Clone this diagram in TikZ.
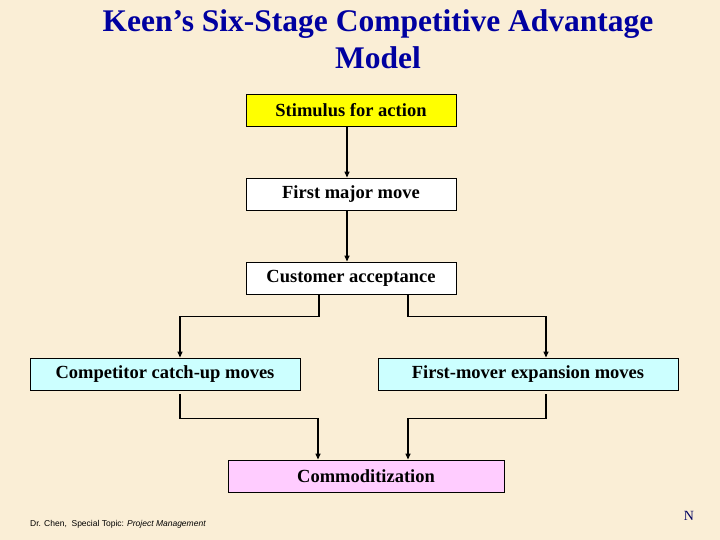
\documentclass[tikz,border=0pt]{standalone}
\usepackage{fontspec}
\setmainfont{Liberation Serif}
\newfontfamily\fussfont{Liberation Sans}
\usepackage{tikz}
\usetikzlibrary{arrows.meta, positioning}

\definecolor{papier}{RGB}{250,238,214}
\definecolor{titelblau}{RGB}{0,0,160}
\definecolor{gelb}{RGB}{255,255,0}
\definecolor{hellcyan}{RGB}{204,255,255}
\definecolor{rosa}{RGB}{255,204,255}

\tikzset{
  kasten/.style={draw=black, line width=0.9pt, minimum height=32pt, inner sep=0pt,
    font=\fontsize{18.5}{21}\selectfont\bfseries},
  pfeil/.style={line width=1.3pt, -{Triangle[length=6pt,width=5pt]}},
  linie/.style={line width=1.3pt}
}

\begin{document}
\begin{tikzpicture}[x=1pt, y=-1pt]
			% Hintergrund
			\fill[papier] (0,0) rectangle (720,540);
			\useasboundingbox (0,0) rectangle (720,540);
			
			% Titel
			\node[titelblau, font=\fontsize{31.5}{37}\selectfont\bfseries, align=center] (titel) at (378,39)
				{Keen's Six-Stage Competitive Advantage\\Model};
			
			% Stufen
			\node[kasten, fill=gelb, minimum width=210pt] (stimulus) at (351,110) {Stimulus for action};
			\node[kasten, fill=white, minimum width=210pt] (erster) at (351,194) {First major move};
			\node[kasten, fill=white, minimum width=210pt] (kunde) at (351,278) {Customer acceptance};
			\node[kasten, fill=hellcyan, minimum width=270pt] (konkurrent) at (165,374) {Competitor catch-up moves};
			\node[kasten, fill=hellcyan, minimum width=300pt] (ausbau) at (528,374) {First-mover expansion moves};
			\node[kasten, fill=rosa, minimum width=276pt] (ware) at (366,476) {Commoditization};
			
			% Verbindungen
			\draw[pfeil] ([xshift=-4pt]stimulus.south) -- ([xshift=-4pt]erster.north);
			\draw[pfeil] ([xshift=-4pt]erster.south) -- ([xshift=-4pt]kunde.north);
			\draw[pfeil] ([xshift=-32pt]kunde.south) -- ++(0,22) -| ([xshift=15pt]konkurrent.north);
			\draw[pfeil] ([xshift=57pt]kunde.south) -- ++(0,22) -| ([xshift=18pt]ausbau.north);
			\draw[pfeil] ([xshift=15pt,yshift=-4pt]konkurrent.south) -- ++(0,24) -| ([xshift=-48pt]ware.north);
			\draw[pfeil] ([xshift=18pt,yshift=-4pt]ausbau.south) -- ++(0,24) -| ([xshift=42pt]ware.north);
			
			% Fusszeile
			\node[anchor=west, font=\fussfont\fontsize{8.5}{10}\selectfont, inner sep=0pt] (fuss) at (30,524)
				{Dr. Chen,\ \ Special Topic: \textit{Project Management}};
			\node[font=\fontsize{14}{16}\selectfont, text=titelblau!60!black, inner sep=0pt] (seite) at (689,516) {N};
		\end{tikzpicture}
\end{document}
